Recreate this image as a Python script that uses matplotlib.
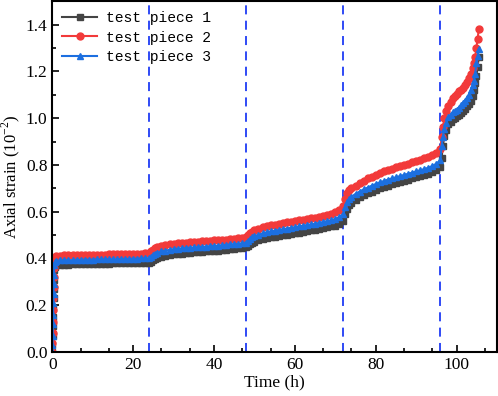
import numpy as np
import matplotlib
matplotlib.use('Agg')
import matplotlib.pyplot as plt
from matplotlib.ticker import MultipleLocator, FixedLocator

plt.rcParams['font.family'] = ['Liberation Serif', 'DejaVu Serif']
plt.rcParams['mathtext.fontset'] = 'custom'
plt.rcParams['mathtext.rm'] = 'Liberation Serif'

# sampling times (h)
time = [0, 0.05, 0.1, 0.15, 0.2, 0.25, 0.3, 0.35, 0.4, 0.5, 0.7, 1,
        2, 3, 4, 5, 6, 7, 8, 9, 10, 11, 12, 13, 14, 15, 16, 17, 18, 19, 20, 21, 22, 23,
        24, 24.5, 25, 25.5, 26, 27, 28, 29, 30, 31, 32, 33, 34, 35, 36, 37, 38, 39, 40,
        41, 42, 43, 44, 45, 46, 47,
        48, 48.5, 49, 49.5, 50, 51, 52, 53, 54, 55, 56, 57, 58, 59, 60, 61, 62, 63, 64,
        65, 66, 67, 68, 69, 70, 71,
        72, 72.5, 73, 73.5, 74, 75, 76, 77, 78, 79, 80, 81, 82, 83, 84, 85, 86, 87, 88,
        89, 90, 91, 92, 93, 94, 95,
        96, 96.3, 96.6, 97, 97.5, 98, 98.5, 99, 99.5, 100, 100.5, 101, 101.5, 102, 102.5,
        103, 103.5, 104, 104.3, 104.6, 104.9, 105.2, 105.5]

piece1 = [0, 0.03, 0.07, 0.11, 0.15, 0.19, 0.23, 0.27, 0.31, 0.35, 0.365, 0.372,
          0.373, 0.374, 0.374, 0.375, 0.375, 0.376, 0.376, 0.377, 0.377, 0.377, 0.378,
          0.378, 0.378, 0.379, 0.379, 0.379, 0.380, 0.380, 0.380, 0.381, 0.381, 0.382,
          0.382, 0.387, 0.393, 0.398, 0.402, 0.408, 0.412, 0.415, 0.418, 0.420, 0.421,
          0.423, 0.424, 0.426, 0.427, 0.429, 0.430, 0.432, 0.433, 0.434, 0.436, 0.437,
          0.439, 0.441, 0.443, 0.445,
          0.448, 0.455, 0.462, 0.468, 0.472, 0.478, 0.483, 0.487, 0.490, 0.493, 0.496,
          0.499, 0.502, 0.505, 0.508, 0.511, 0.514, 0.517, 0.520, 0.523, 0.526, 0.530,
          0.533, 0.537, 0.541, 0.548,
          0.560, 0.590, 0.612, 0.628, 0.638, 0.651, 0.661, 0.670, 0.678, 0.686, 0.693,
          0.700, 0.706, 0.712, 0.717, 0.722, 0.727, 0.732, 0.737, 0.742, 0.747, 0.752,
          0.757, 0.763, 0.770, 0.778,
          0.790, 0.830, 0.880, 0.925, 0.950, 0.975, 0.985, 0.995, 1.000, 1.008, 1.015,
          1.022, 1.030, 1.040, 1.050, 1.060, 1.075, 1.095, 1.120, 1.150, 1.180, 1.220, 1.260]

piece2 = [0, 0.04, 0.08, 0.13, 0.18, 0.23, 0.28, 0.32, 0.36, 0.39, 0.405, 0.410,
          0.412, 0.413, 0.413, 0.414, 0.414, 0.415, 0.415, 0.416, 0.416, 0.416, 0.417,
          0.417, 0.418, 0.418, 0.418, 0.419, 0.419, 0.420, 0.420, 0.421, 0.421, 0.422,
          0.424, 0.430, 0.437, 0.443, 0.447, 0.453, 0.457, 0.460, 0.463, 0.465, 0.466,
          0.468, 0.469, 0.470, 0.472, 0.473, 0.474, 0.476, 0.477, 0.478, 0.480, 0.481,
          0.483, 0.484, 0.486, 0.488,
          0.492, 0.500, 0.508, 0.515, 0.520, 0.527, 0.533, 0.538, 0.542, 0.545, 0.548,
          0.551, 0.554, 0.557, 0.560, 0.563, 0.566, 0.569, 0.572, 0.575, 0.578, 0.582,
          0.586, 0.591, 0.597, 0.607,
          0.625, 0.655, 0.678, 0.692, 0.700, 0.712, 0.722, 0.732, 0.742, 0.750, 0.758,
          0.765, 0.772, 0.778, 0.784, 0.790, 0.796, 0.801, 0.806, 0.811, 0.816, 0.822,
          0.828, 0.835, 0.843, 0.853,
          0.866, 0.920, 0.960, 1.000, 1.030, 1.050, 1.070, 1.085, 1.095, 1.105, 1.115,
          1.120, 1.130, 1.140, 1.155, 1.170, 1.190, 1.215, 1.235, 1.260, 1.300, 1.340, 1.380]

piece3 = [0, 0.03, 0.07, 0.12, 0.16, 0.21, 0.25, 0.29, 0.33, 0.37, 0.385, 0.390,
          0.392, 0.393, 0.393, 0.393, 0.394, 0.394, 0.395, 0.395, 0.395, 0.396, 0.396,
          0.396, 0.397, 0.397, 0.397, 0.398, 0.398, 0.398, 0.399, 0.399, 0.400, 0.400,
          0.402, 0.408, 0.415, 0.420, 0.424, 0.430, 0.434, 0.437, 0.440, 0.442, 0.443,
          0.445, 0.446, 0.447, 0.449, 0.450, 0.451, 0.453, 0.454, 0.455, 0.457, 0.458,
          0.460, 0.461, 0.463, 0.465,
          0.468, 0.476, 0.484, 0.490, 0.495, 0.502, 0.507, 0.512, 0.516, 0.519, 0.522,
          0.525, 0.528, 0.531, 0.534, 0.537, 0.540, 0.543, 0.546, 0.549, 0.552, 0.556,
          0.560, 0.564, 0.569, 0.577,
          0.590, 0.620, 0.642, 0.656, 0.664, 0.676, 0.686, 0.695, 0.703, 0.711, 0.718,
          0.725, 0.731, 0.737, 0.742, 0.747, 0.752, 0.757, 0.762, 0.767, 0.772, 0.777,
          0.782, 0.788, 0.795, 0.805,
          0.820, 0.880, 0.920, 0.955, 0.980, 1.005, 1.015, 1.025, 1.030, 1.036, 1.045,
          1.055, 1.065, 1.075, 1.085, 1.100, 1.120, 1.140, 1.160, 1.190, 1.235, 1.265, 1.295]

stage_lines = [24, 48, 72, 96]
labels = ['test piece 1', 'test piece 2', 'test piece 3']

fig = plt.figure(figsize=(4.98, 3.96), dpi=100)
ax = fig.add_axes([0.105, 0.111, 0.893, 0.886])

ax.plot(time, piece1, '-s', color='#444444', lw=1.5, ms=4.5, label=labels[0])
ax.plot(time, piece2, '-o', color='#f23a3a', lw=1.5, ms=5, label=labels[1])
ax.plot(time, piece3, '-^', color='#1c6fe0', lw=1.5, ms=5, label=labels[2])

for x in stage_lines:
    ax.axvline(x, color='#1f3cf5', lw=1.3, ls=(0, (5, 3.5)), zorder=1)

ax.set_xlim(0, 110)
ax.set_ylim(0, 1.5)
ax.xaxis.set_major_locator(MultipleLocator(20))
ax.xaxis.set_minor_locator(FixedLocator([7, 14, 27, 34, 47, 54, 67, 74, 87, 94, 107]))
ax.yaxis.set_major_locator(MultipleLocator(0.2))
ax.yaxis.set_minor_locator(MultipleLocator(0.1))
ax.xaxis.set_major_formatter(plt.FuncFormatter(lambda v, p: f'{v:.0f}'))
ax.yaxis.set_major_formatter(plt.FuncFormatter(lambda v, p: f'{v:.1f}'))
ax.tick_params(which='both', direction='in', labelsize=12.5, width=1.2)
ax.tick_params(which='major', length=5)
ax.tick_params(which='minor', length=3)
for sp in ax.spines.values():
    sp.set_linewidth(1.5)

ax.set_xlabel('Time (h)', fontsize=12.5, labelpad=1)
ax.set_ylabel(r'Axial strain (10$^{\mathregular{-2}}$)', fontsize=12)
ax.yaxis.set_label_coords(-0.068, 0.5)

ax.legend(loc='upper left', frameon=False, prop={'family': 'Liberation Mono', 'size': 10.5},
          handlelength=2.4, handletextpad=0.6, labelspacing=0.35,
          borderaxespad=0.3, bbox_to_anchor=(0.0, 1.0))

fig.savefig('out.png', dpi=100)
